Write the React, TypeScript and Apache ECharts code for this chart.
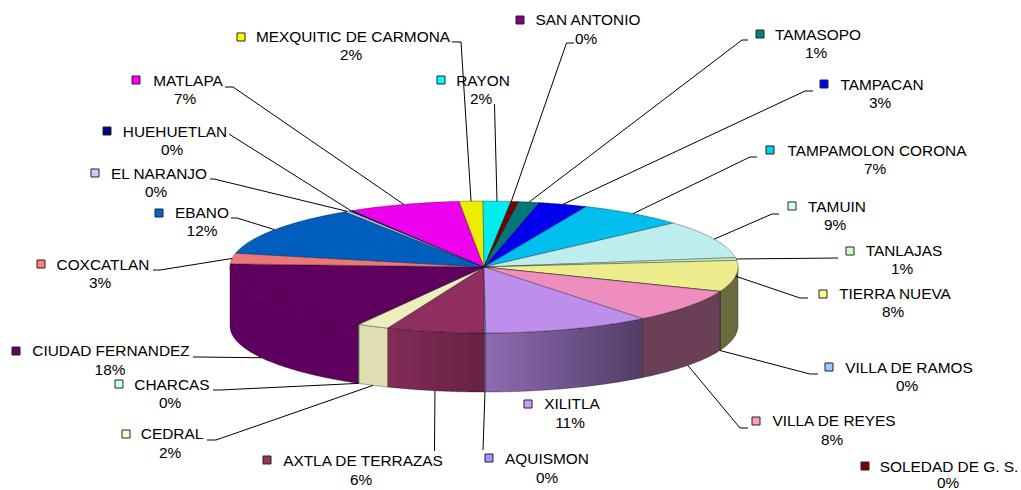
import React, { useEffect, useRef } from "react";
import * as echarts from "echarts";

const names = ["AQUISMON","AXTLA DE TERRAZAS","CEDRAL","CHARCAS","CIUDAD FERNANDEZ","COXCATLAN","EBANO","EL NARANJO","HUEHUETLAN","MATLAPA","MEXQUITIC DE CARMONA","RAYON","SAN ANTONIO","SOLEDAD DE G. S.","TAMASOPO","TAMPACAN","TAMPAMOLON CORONA","TAMUIN","TANLAJAS","TIERRA NUEVA","VILLA DE RAMOS","VILLA DE REYES","XILITLA"];
const values = [0.1,6.2,2.0,0.05,17.5,2.6,12.4,0.35,0.2,7.1,1.5,1.75,0.05,0.45,1.3,3.1,6.8,9.3,0.7,7.6,0.05,8.2,10.6];
const palette = ["#9999FF","#993366","#FFFFCC","#CCFFFF","#660066","#FF8080","#0066CC","#CCCCFF","#000080","#FF00FF","#FFFF00","#00FFFF","#800080","#800000","#008080","#0000FF","#00CCFF","#CCFFFF","#CCFFCC","#FFFF99","#99CCFF","#FF99CC","#CC99FF"];

// Side-wall lighting per slice: brightness at the left and right of the wall
const sideLight: Record<string, [number, number]> = {
  "AQUISMON": [0.7, 0.7], "AXTLA DE TERRAZAS": [0.85, 0.67], "CEDRAL": [0.87, 0.87], "CHARCAS": [0.87, 0.87],
  "CIUDAD FERNANDEZ": [0.92, 0.92], "COXCATLAN": [0.9, 0.9], "TANLAJAS": [0.42, 0.42], "TIERRA NUEVA": [0.42, 0.42],
  "VILLA DE RAMOS": [0.42, 0.42], "VILLA DE REYES": [0.42, 0.42], "XILITLA": [0.7, 0.4],
};

// Label layout: marker centre, name centre, percent centre, leader start points
type L = { m: [number, number]; n: [number, number]; p: [number, number]; lead?: number[][] };
const layout: Record<string, L> = {
  "AQUISMON": { m: [489, 458], n: [547, 458], p: [547, 477], lead: [[483, 450]] },
  "AXTLA DE TERRAZAS": { m: [267, 460], n: [363, 460], p: [361, 479], lead: [[434.5, 451]] },
  "CEDRAL": { m: [126, 434], n: [172, 433], p: [170, 452], lead: [[207, 440], [216, 440]] },
  "CHARCAS": { m: [119, 384], n: [172, 384], p: [170, 402], lead: [[213, 390], [220, 390]] },
  "CIUDAD FERNANDEZ": { m: [16, 351], n: [111, 350], p: [110, 369], lead: [[193, 357], [200, 357]] },
  "COXCATLAN": { m: [41, 264], n: [103, 264], p: [100, 282], lead: [[153, 270], [160, 270]] },
  "EBANO": { m: [159, 213], n: [202, 212], p: [202, 230], lead: [[231, 218], [237, 218]] },
  "EL NARANJO": { m: [95, 173], n: [159, 173], p: [156, 191], lead: [[210, 179], [214, 179]] },
  "HUEHUETLAN": { m: [107, 131], n: [175, 131], p: [172, 149], lead: [[229, 134]] },
  "MATLAPA": { m: [136, 80], n: [188, 80], p: [185, 98], lead: [[225, 87], [233, 87]] },
  "MEXQUITIC DE CARMONA": { m: [241, 37], n: [353, 36], p: [351, 54], lead: [[452, 42], [461, 42]] },
  "RAYON": { m: [441, 80], n: [483, 80], p: [481, 98], lead: [[494.5, 104]] },
  "SAN ANTONIO": { m: [520, 20], n: [588, 19], p: [586, 38], lead: [[574, 43], [566.5, 43]] },
  "SOLEDAD DE G. S.": { m: [865, 466], n: [949, 466], p: [948, 482] },
  "TAMASOPO": { m: [760, 34], n: [818, 34], p: [816, 52], lead: [[748, 40], [742, 40]] },
  "TAMPACAN": { m: [824, 84], n: [882, 84], p: [880, 102], lead: [[813, 91], [805, 91]] },
  "TAMPAMOLON CORONA": { m: [770, 150], n: [877, 150], p: [875, 168], lead: [[757, 157], [750, 157]] },
  "TAMUIN": { m: [792, 206], n: [837, 206], p: [835, 224], lead: [[779, 214], [772, 214]] },
  "TANLAJAS": { m: [850, 251], n: [904, 250], p: [902, 268], lead: [[838, 258]] },
  "TIERRA NUEVA": { m: [823, 294], n: [895, 293], p: [893, 311], lead: [[808, 298], [800, 298]] },
  "VILLA DE RAMOS": { m: [829, 367], n: [909, 367], p: [907, 385], lead: [[818, 374], [810, 374]] },
  "VILLA DE REYES": { m: [756, 421], n: [834, 420], p: [832, 439], lead: [[748, 428], [740, 428]] },
  "XILITLA": { m: [528, 404], n: [572, 403], p: [570, 422] },
};

const CX = 484, CY = 267, RX = 254, RY = 66, DEPTH = 59, START = 179.6;
const FONT = "15.4px 'Liberation Sans', Arial, sans-serif";
const total = values.reduce((a, b) => a + b, 0);

const shade = (hex: string, k: number) => {
  const n = parseInt(hex.slice(1), 16);
  const c = [(n >> 16) & 255, (n >> 8) & 255, n & 255].map((v) => Math.round(v * k));
  return `rgb(${c[0]},${c[1]},${c[2]})`;
};
const rim = (deg: number, dy = 0): number[] => {
  const r = (deg * Math.PI) / 180;
  return [CX + RX * Math.sin(r), CY - RY * Math.cos(r) + dy];
};
const sweep = (a: number, b: number, dy = 0) => {
  const pts: number[][] = [];
  const steps = Math.max(1, Math.ceil((b - a) / 0.5));
  for (let i = 0; i <= steps; i++) pts.push(rim(a + ((b - a) * i) / steps, dy));
  return pts;
};

const angles = (i: number) => {
  const before = values.slice(0, i).reduce((a, b) => a + b, 0);
  const a = START + (before / total) * 360;
  return [a, a + (values[i] / total) * 360];
};

const EDGE = "rgba(0,0,0,0.45)";

function renderItem(params: any) {
  const i = params.dataIndex;
  const name = names[i];
  const [a, b] = angles(i);
  const base = palette[i];
  const children: any[] = [];

  // Front wall: the part of the slice between 90° and 270° of the rim
  const [lf, rt] = sideLight[name] || [0.5, 0.5];
  for (const [lo, hi] of [[90, 270], [450, 630]]) {
    const s = Math.max(a, lo), e = Math.min(b, hi);
    if (e <= s) continue;
    const top = sweep(s, e);
    const bottom = sweep(s, e, DEPTH).reverse();
    children.push({
      type: "polygon",
      shape: { points: top.concat(bottom) },
      style: {
        fill: new echarts.graphic.LinearGradient(0, 0, 1, 0, [
          { offset: 0, color: shade(base, lf) },
          { offset: 1, color: shade(base, rt) },
        ]),
        stroke: EDGE,
        lineWidth: 0.7,
      },
      z2: 1,
    });
  }

  // Top face
  children.push({
    type: "polygon",
    shape: { points: [[CX, CY] as number[]].concat(sweep(a, b)) },
    style: { fill: shade(base, 0.93), stroke: EDGE, lineWidth: 0.7 },
    z2: 2,
  });

  // Leader line and label
  const l = layout[name];
  const mid = (a + b) / 2;
  const norm = ((mid % 360) + 360) % 360;
  const front = norm > 105 && norm < 270;
  if (l.lead) {
    children.push({
      type: "polyline",
      shape: { points: l.lead.concat([rim(mid, front ? DEPTH : 0)]) },
      style: { stroke: "#000", lineWidth: 1, fill: "none" },
      z2: 3,
    });
  }
  children.push({
    type: "rect",
    shape: { x: l.m[0] - 4, y: l.m[1] - 4, width: 8, height: 8 },
    style: { fill: base, stroke: "#222", lineWidth: 1 },
    z2: 4,
  });
  children.push({
    type: "text",
    style: { text: name, x: l.n[0], y: l.n[1], align: "center", verticalAlign: "middle", font: FONT, fill: "#000" },
    z2: 4,
  });
  children.push({
    type: "text",
    style: {
      text: Math.round((values[i] / total) * 100) + "%",
      x: l.p[0], y: l.p[1], align: "center", verticalAlign: "middle", font: FONT, fill: "#000",
    },
    z2: 4,
  });
  return { type: "group", children };
}

export default function App() {
  const ref = useRef<HTMLDivElement>(null);
  useEffect(() => {
    document.body.style.margin = "0";
    const chart = echarts.init(ref.current!, null, { renderer: "svg" });
    chart.setOption({
      animation: false,
      backgroundColor: "#fff",
      series: [
        {
          type: "custom",
          coordinateSystem: "none",
          silent: true,
          renderItem,
          data: values.map((v, i) => ({ name: names[i], value: v })),
        },
      ],
    });
    return () => chart.dispose();
  }, []);
  return <div ref={ref} style={{ width: 1021, height: 490, position: "absolute", left: 0, top: 0 }} />;
}
